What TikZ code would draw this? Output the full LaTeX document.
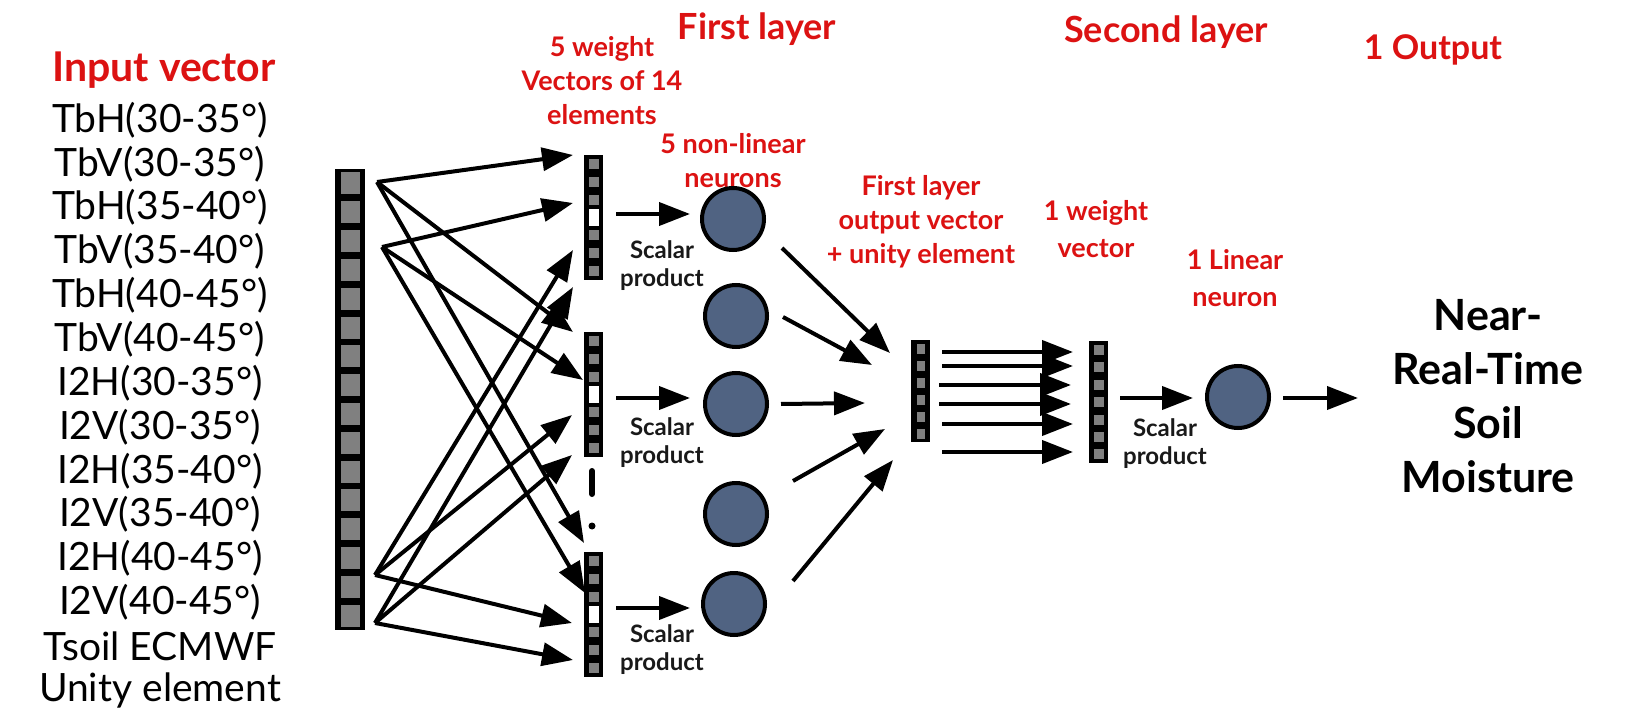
\documentclass[tikz,border=0pt]{standalone}
\usepackage{fontspec}
\setmainfont{Lato}
\usetikzlibrary{arrows.meta}
\definecolor{lblred}{RGB}{220,18,18}
\definecolor{cellgray}{RGB}{128,128,128}
\definecolor{neuronblue}{RGB}{80,99,130}
\definecolor{txtdark}{RGB}{25,25,25}
\begin{document}
\begin{tikzpicture}[x=1pt,y=-1pt,
  arr/.style={line width=4pt,-{Triangle[length=31pt,width=23pt]}},
  vecbox/.style={fill=black,inner sep=0pt,outer sep=0pt,anchor=north west,draw=none},
  neuron/.style={circle,draw=black,line width=4pt,fill=neuronblue,minimum size=62pt,inner sep=0pt},
  redlbl/.style={text=lblred,font=\fontsize{27}{34}\selectfont\bfseries,align=center},
  bigred/.style={text=lblred,font=\fontsize{36}{42}\selectfont\bfseries},
  inlbl/.style={font=\fontsize{39}{44}\selectfont,text=black},
  sclbl/.style={font=\fontsize{24}{28}\selectfont\bfseries,text=txtdark,align=center},
  outlbl/.style={font=\fontsize{43}{54}\selectfont\bfseries,align=center,text=black}
]
\fill[white] (0,0) rectangle (1632,708);
\useasboundingbox (0,0) rectangle (1632,708);

% ---------- titles ----------
\node[text=lblred,font=\fontsize{41}{46}\selectfont\bfseries] (tin) at (164,70) {Input vector};
\node[bigred] (tfirst) at (757,29) {First layer};
\node[bigred] (tsecond) at (1166,32) {Second layer};
\node[bigred,font=\fontsize{34}{40}\selectfont\bfseries] (tout) at (1433,50) {1 Output};
\node[redlbl] (twv) at (602,81) {5 weight\\Vectors of 14\\elements};
\node[redlbl] (tnl) at (733,161) {5 non-linear\\neurons};
\node[redlbl] (tflo) at (921,222) {First layer\\output vector\\+ unity element};
\node[redlbl,font=\fontsize{27}{37}\selectfont\bfseries] (t1w) at (1096,229) {1 weight\\vector};
\node[redlbl,font=\fontsize{27}{37}\selectfont\bfseries] (t1l) at (1235,278) {1 Linear\\neuron};

% ---------- input list ----------
\foreach \t [count=\k from 0] in {TbH(30-35°),TbV(30-35°),TbH(35-40°),TbV(35-40°),TbH(40-45°),TbV(40-45°),I2H(30-35°),I2V(30-35°),I2H(35-40°),I2V(35-40°),I2H(40-45°),I2V(40-45°),Tsoil ECMWF,Unity element}
  \node[inlbl] (in\k) at (160,{120+43.85*\k}) {\t};

% ---------- input bar ----------
\node[vecbox,minimum width=30pt,minimum height=461pt] (ibar) at (335,169) {};
\foreach \i in {0,...,15}
  \fill[cellgray] (341,{169+28.81*\i+3.5}) rectangle +(19,22);

% ---------- weight vectors (first layer) ----------
\foreach \nm/\yt in {w1/155,w2/332,w3/552} {
  \node[vecbox,minimum width=19pt,minimum height=125pt] (\nm) at (584,\yt) {};
  \foreach \i in {0,1,2,4,5,6}
    \fill[cellgray] (589,{\yt+4+17.8*\i}) rectangle +(9.5,10);
  \fill[white] (589,{\yt+17.8*3+0.5}) rectangle +(10,17);
}
\draw[line width=6pt,line cap=round] (592,471) -- (592,494);
\fill (592,526) circle (3.5);

% ---------- first layer output vector ----------
\node[vecbox,minimum width=19pt,minimum height=102pt] (fov) at (911,340) {};
\foreach \i in {0,...,5}
  \fill[cellgray] (916.5,{340+4+17*\i}) rectangle +(8.5,9.5);

% ---------- second weight vector ----------
\node[vecbox,minimum width=19pt,minimum height=122pt] (wv2) at (1089,341) {};
\foreach \i in {0,...,6}
  \fill[cellgray] (1094,{341+4+17.4*\i}) rectangle +(9.5,10);

% ---------- neurons ----------
\node[neuron] (n1) at (733,219) {};
\node[neuron] (n2) at (736,316) {};
\node[neuron] (n3) at (736,404) {};
\node[neuron] (n4) at (736,514) {};
\node[neuron] (n5) at (734,604) {};
\node[neuron] (nout) at (1238,397) {};

% ---------- labels ----------
\node[sclbl] (sp1) at (662,266) {Scalar\\product};
\node[sclbl] (sp2) at (662,443) {Scalar\\product};
\node[sclbl] (sp3) at (662,650) {Scalar\\product};
\node[sclbl] (sp4) at (1165,444) {Scalar\\product};
\node[outlbl] (res) at (1488,396) {Near-\\Real-Time\\Soil\\Moisture};

% ---------- fan coordinates ----------
\coordinate (fa) at (377,182);
\coordinate (fb) at (382,247);
\coordinate (fc) at (375,575);
\coordinate (fd) at (375,623);
\coordinate (t1) at (573,155);
\coordinate (t2) at (573,203);
\coordinate (t3) at (573,250);
\coordinate (t4) at (573,287);
\coordinate (t5) at (573,332);
\coordinate (t6) at (583,380);
\coordinate (t7) at (572,415);
\coordinate (t8) at (572,455);
\coordinate (t9) at (584,543);
\coordinate (t10) at (585,593);
\coordinate (t11) at (572,623);
\coordinate (t12) at (573,660);

\draw[arr] (fa) -- (t1);
\draw[arr] (fa) -- (t5);
\draw[arr] (fa) -- (t9);
\draw[arr] (fb) -- (t2);
\draw[arr] (fb) -- (t6);
\draw[arr] (fb) -- (t10);
\draw[arr] (fc) -- (t3);
\draw[arr] (fc) -- (t7);
\draw[arr] (fc) -- (t11);
\draw[arr] (fd) -- (t4);
\draw[arr] (fd) -- (t8);
\draw[arr] (fd) -- (t12);

% ---------- scalar product arrows ----------
\coordinate (s1a) at (616,214); \coordinate (s1b) at (690,214);
\coordinate (s2a) at (616,398); \coordinate (s2b) at (690,398);
\coordinate (s3a) at (616,608); \coordinate (s3b) at (690,608);
\draw[arr] (s1a) -- (s1b);
\draw[arr] (s2a) -- (s2b);
\draw[arr] (s3a) -- (s3b);

% ---------- neurons to output vector ----------
\coordinate (o1a) at (782,248); \coordinate (o1b) at (890,353);
\coordinate (o2a) at (783,317); \coordinate (o2b) at (872,365);
\coordinate (o3a) at (781,404); \coordinate (o3b) at (865,403);
\coordinate (o4a) at (793,481); \coordinate (o4b) at (885,429);
\coordinate (o5a) at (793,581); \coordinate (o5b) at (893,460);
\draw[arr] (o1a) -- (o1b);
\draw[arr] (o2a) -- (o2b);
\draw[arr] (o3a) -- (o3b);
\draw[arr] (o4a) -- (o4b);
\draw[arr] (o5a) -- (o5b);

% ---------- parallel arrows ----------
\foreach \yy/\xs/\xe [count=\k] in {352/942/1073,366/942/1073,385/939/1071,404/939/1071,424/942/1073,452/942/1073} {
  \coordinate (pa\k) at (\xs,\yy);
  \coordinate (pb\k) at (\xe,\yy);
  \draw[arr] (pa\k) -- (pb\k);
}

% ---------- second layer ----------
\coordinate (q1a) at (1120,398); \coordinate (q1b) at (1193,398);
\draw[arr] (q1a) -- (q1b);
\coordinate (q2a) at (1283,398); \coordinate (q2b) at (1358,398);
\draw[arr] (q2a) -- (q2b);
\end{tikzpicture}
\end{document}
